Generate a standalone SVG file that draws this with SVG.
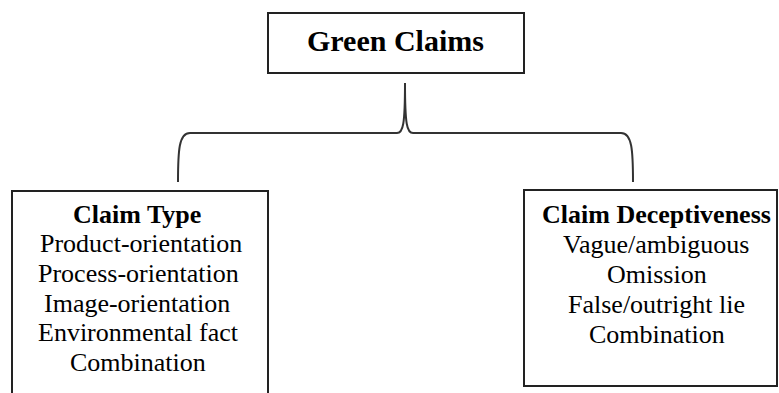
<svg xmlns="http://www.w3.org/2000/svg" width="779" height="393" viewBox="0 0 779 393">
<style>
.box{fill:#fff;stroke:#222;stroke-width:2}
.conn{fill:none;stroke:#333;stroke-width:2}
</style>
<rect width="779" height="393" fill="#fff"/>
<g id="connectors">
<path class="conn" d="M178,182 C178,150 179,133 190,133 L397,133 C403,133 405,125 405,83 C405,125 407,133 413,133 L621,133 C632,133 633,150 633,182"/>
</g>
<g id="green-claims">
<rect class="box" x="268" y="13" width="256" height="60"/>
<text x="307" y="51" font-family="Liberation Serif" font-size="30" font-weight="bold">Green Claims</text>
</g>
<g id="claim-type">
<rect class="box" x="12" y="191" width="256" height="215"/>
<text x="73" y="223" font-family="Liberation Serif" font-size="26" font-weight="bold">Claim Type</text>
<text x="40" y="252" font-family="Liberation Serif" font-size="26">Product-orientation</text>
<text x="38" y="282" font-family="Liberation Serif" font-size="26">Process-orientation</text>
<text x="44" y="312" font-family="Liberation Serif" font-size="26">Image-orientation</text>
<text x="38" y="341" font-family="Liberation Serif" font-size="26">Environmental fact</text>
<text x="70" y="371" font-family="Liberation Serif" font-size="26">Combination</text>
</g>
<g id="claim-deceptiveness">
<rect class="box" x="524" y="190" width="253" height="196"/>
<text x="542" y="223" font-family="Liberation Serif" font-size="26" font-weight="bold">Claim Deceptiveness</text>
<text x="563" y="253" font-family="Liberation Serif" font-size="26">Vague/ambiguous</text>
<text x="607" y="283" font-family="Liberation Serif" font-size="26">Omission</text>
<text x="568" y="313" font-family="Liberation Serif" font-size="26">False/outright lie</text>
<text x="589" y="343" font-family="Liberation Serif" font-size="26">Combination</text>
</g>
</svg>
